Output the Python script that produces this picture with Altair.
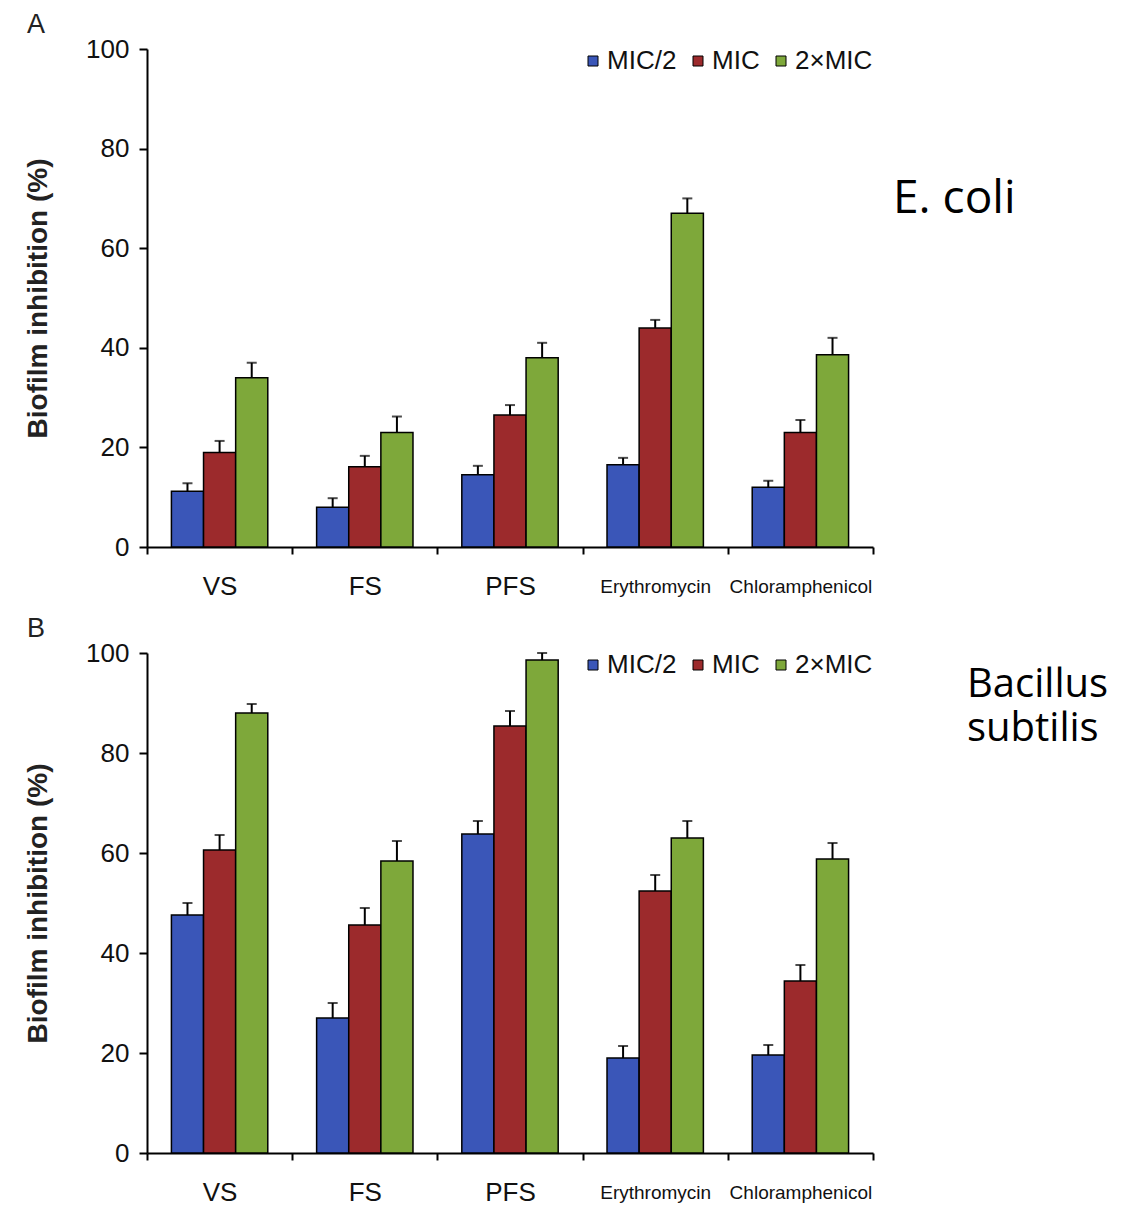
import altair as alt
import pandas as pd

categories = ["VS", "FS", "PFS", "Erythromycin", "Chloramphenicol"]
series = ["MIC/2", "MIC", "2×MIC"]
colors = ["#3a56b8", "#9c2a2c", "#7ea83a"]

# Panel A (E. coli)
a_half = [11.2, 8.0, 14.5, 16.5, 12.0]
a_mic = [19.0, 16.1, 26.5, 44.0, 23.0]
a_two = [34.0, 23.0, 38.0, 67.0, 38.6]
a_half_err = [1.6, 1.8, 1.8, 1.4, 1.3]
a_mic_err = [2.3, 2.2, 2.0, 1.6, 2.5]
a_two_err = [3.0, 3.2, 3.0, 3.0, 3.4]

# Panel B (Bacillus subtilis)
b_half = [47.6, 27.0, 63.8, 19.0, 19.6]
b_mic = [60.6, 45.6, 85.4, 52.4, 34.4]
b_two = [88.0, 58.4, 98.6, 63.0, 58.8]
b_half_err = [2.4, 3.0, 2.6, 2.4, 2.0]
b_mic_err = [3.0, 3.4, 3.0, 3.2, 3.2]
b_two_err = [1.8, 4.0, 1.4, 3.4, 3.2]

y_ticks = [0, 20, 40, 60, 80, 100]
FONT = "Liberation Sans"


def build_df(vals, errs):
    rows = []
    for s, v_list, e_list in zip(series, vals, errs):
        for c, v, e in zip(categories, v_list, e_list):
            rows.append({"cat": c, "series": s, "value": v, "err": e})
    return pd.DataFrame(rows)


def panel(df, letter, species, height):
    base = alt.Chart(df).transform_calculate(top="datum.value + datum.err")
    x = alt.X(
        "cat:N",
        sort=categories,
        scale=alt.Scale(domain=categories, paddingInner=0, paddingOuter=0),
        axis=alt.Axis(
            title=None,
            labelAngle=0,
            tickBand="extent",
            tickSize=7,
            tickWidth=2,
            tickColor="black",
            domainColor="black",
            domainWidth=2,
            labelFont=FONT,
            labelColor="#111111",
            labelFontSize={"condition": {"test": "length(datum.label) > 5", "value": 19}, "value": 26},
            labelBaseline="middle",
            labelPadding=32,
            labelOverlap=False,
            labelLimit=300,
        ),
    )
    xo = alt.XOffset(
        "series:N",
        sort=series,
        scale=alt.Scale(domain=series, paddingOuter=0.76, paddingInner=0),
    )
    y = alt.Y(
        "value:Q",
        scale=alt.Scale(domain=[0, 100], nice=False),
        axis=alt.Axis(
            values=y_ticks,
            title="Biofilm inhibition (%)",
            titleFont=FONT,
            titleFontSize=28,
            titleFontWeight="bold",
            titleColor="#222222",
            titlePadding=33,
            labelFont=FONT,
            labelFontSize=26,
            labelColor="#111111",
            labelPadding=10,
            tickSize=8,
            tickWidth=2,
            tickColor="black",
            domainColor="black",
            domainWidth=2,
            grid=False,
        ),
    )
    bars = base.mark_bar(stroke="black", strokeWidth=1.5).encode(
        x=x,
        xOffset=xo,
        y=y,
        color=alt.Color(
            "series:N",
            scale=alt.Scale(domain=series, range=colors),
            legend=alt.Legend(
                title=None,
                orient="none",
                legendX=433,
                legendY=-1,
                direction="horizontal",
                symbolType="square",
                symbolSize=100,
                symbolStrokeColor="black",
                symbolStrokeWidth=1,
                symbolOpacity=1,
                labelFont=FONT,
                labelFontSize=26,
                labelColor="#111111",
                labelOffset=1,
                columnPadding=8,
                padding=0,
            ),
        ),
    )
    err = base.mark_rule(color="black", strokeWidth=2).encode(
        x=x, xOffset=xo, y="value:Q", y2="top:Q"
    )
    caps = base.mark_tick(color="black", size=10, thickness=2).encode(
        x=x, xOffset=xo, y="top:Q"
    )
    one = pd.DataFrame({"k": [0]})
    letter_txt = alt.Chart(one).mark_text(
        font=FONT, fontSize=27, align="left", baseline="alphabetic", color="#222222"
    ).encode(x=alt.value(-120), y=alt.value(-16), text=alt.value(letter))
    sp_txt = alt.Chart(one).mark_text(
        font="Open Sans", fontSize=species[1], align="left", baseline="alphabetic",
        color="black", lineBreak="\n", lineHeight=44,
    ).encode(x=alt.value(species[2]), y=alt.value(species[3]), text=alt.value(species[0]))
    return alt.layer(bars, err, caps, letter_txt, sp_txt).properties(width=726, height=height)


df_a = build_df([a_half, a_mic, a_two], [a_half_err, a_mic_err, a_two_err])
df_b = build_df([b_half, b_mic, b_two], [b_half_err, b_mic_err, b_two_err])

pa = panel(df_a, "A", ("E. coli", 46, 746, 164), 498)
pb = panel(df_b, "B", ("Bacillus\nsubtilis", 40, 820, 44), 500)

chart = (
    alt.vconcat(pa, pb, spacing=16)
    .resolve_legend(color="independent")
    .resolve_scale(color="independent")
    .properties(
        padding={"left": 16, "top": 3, "right": 5, "bottom": 0},
        background="white",
    )
    .configure_view(strokeWidth=0, stroke="transparent")
)

chart.save("out.html", embed_options={"renderer": "svg", "actions": False})
